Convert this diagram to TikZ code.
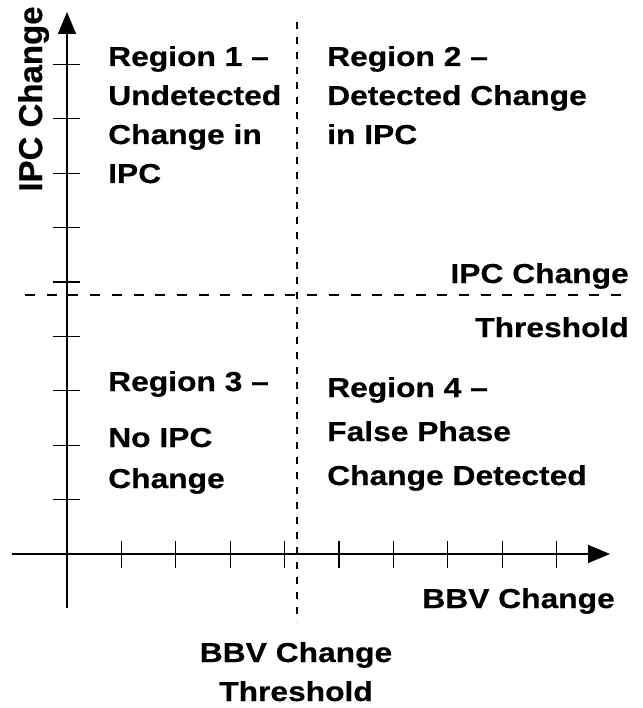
\documentclass[tikz,border=0pt]{standalone}
\usepackage{fontspec}
\setmainfont{Liberation Sans}[FakeStretch=1.16,BoldFeatures={FakeBold=0.5}]
\newfontfamily\axisfont{Liberation Sans}[BoldFeatures={FakeBold=0.5}]
\usetikzlibrary{arrows.meta}
\begin{document}
\begin{tikzpicture}[x=1pt,y=-1pt,
  axis/.style={line width=1.3pt},
  tick/.style={line width=1.2pt},
  vdash/.style={line width=1.2pt,dash pattern=on 7pt off 8pt},
  hdash/.style={line width=1.2pt,dash pattern=on 10pt off 11.7pt},
  lbl/.style={inner sep=0pt,font=\bfseries\fontsize{27.4}{39}\selectfont},
  tip/.style={-{Triangle[length=22pt,width=18pt]}}]
\useasboundingbox (0,0) rectangle (642,708);
% axes
\coordinate (ybot) at (67,608);
\coordinate (ytop) at (67,12);
\coordinate (xleft) at (12,554);
\coordinate (xright) at (610,554);
\draw[axis,tip] (ybot) -- (ytop);
\draw[axis,tip] (xleft) -- (xright);
% ticks
\foreach \k in {1,...,9}{
  \coordinate (yt\k a) at (53,554-54.4*\k);
  \coordinate (yt\k b) at (80,554-54.4*\k);
  \draw[tick] (yt\k a) -- (yt\k b);
  \coordinate (xt\k a) at (67+54.4*\k,541);
  \coordinate (xt\k b) at (67+54.4*\k,568);
  \draw[tick] (xt\k a) -- (xt\k b);
}
% thresholds
\coordinate (vt) at (297,22);
\coordinate (vb) at (297,622);
\coordinate (hl) at (25,295);
\coordinate (hr) at (625,295);
\draw[vdash] (vt) -- (vb);
\draw[hdash] (hl) -- (hr);
% labels (base anchor = baseline of the last line)
\node[lbl,anchor=base,rotate=90,font=\axisfont\bfseries\fontsize{33}{39}\selectfont] (ylab) at (42,99) {IPC Change};
\node[lbl,anchor=base west,align=left] (r1) at (108,183) {Region 1 –\\Undetected\\Change in\\IPC};
\node[lbl,anchor=base west,align=left] (r2) at (327,144) {Region 2 –\\Detected Change\\in IPC};
\node[lbl,anchor=base west,align=left,font=\bfseries\fontsize{27.4}{41}\selectfont] (r3) at (108,488) {Region 3 –\\[15pt]No IPC\\Change};
\node[lbl,anchor=base west,align=left,font=\bfseries\fontsize{27.4}{44}\selectfont] (r4) at (327,485) {Region 4 –\\False Phase\\Change Detected};
\node[lbl,anchor=base east,align=right,font=\bfseries\fontsize{27.4}{54}\selectfont] (ipcth) at (629,337) {IPC Change\\Threshold};
\node[lbl,anchor=base east] (xlab) at (615,608) {BBV Change};
\node[lbl,anchor=base,align=center] (bbvth) at (296,701) {BBV Change\\Threshold};
\end{tikzpicture}
\end{document}
